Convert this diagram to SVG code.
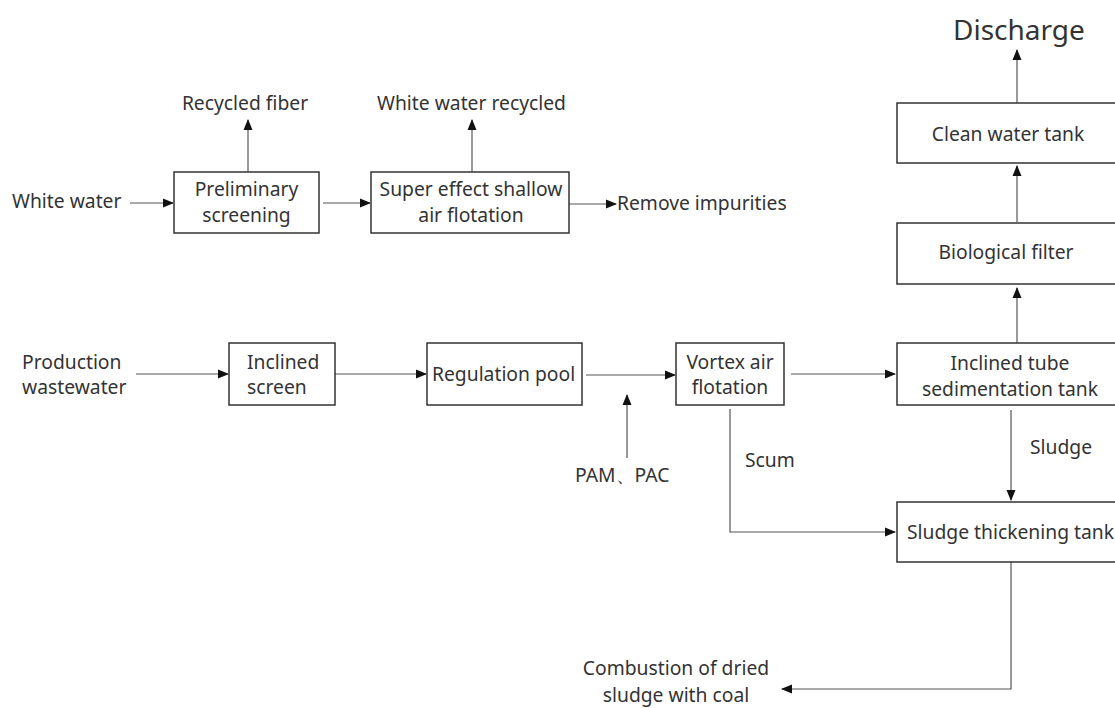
<svg xmlns="http://www.w3.org/2000/svg" width="1115" height="708" viewBox="0 0 1115 708">
<defs>
<marker id="ah" markerWidth="11" markerHeight="10" refX="10" refY="5" orient="auto" markerUnits="userSpaceOnUse">
<path d="M0,0.5 L11,5 L0,9.5 z" fill="#111"/>
</marker>
<style>
text{font-family:"Noto Sans","Liberation Sans",sans-serif;font-size:19.3px;fill:#333;}
.big{font-size:28px;}
.m{text-anchor:middle;}
rect{fill:#fff;stroke:#333;stroke-width:1.5;}
.c{fill:none;stroke:#555;stroke-width:1.2;}
</style>
</defs>
<rect x="0" y="0" width="1115" height="708" style="fill:#fff;stroke:none"/>
<g id="connectors">
<path class="c" d="M130,203 H173" marker-end="url(#ah)"/>
<path class="c" d="M248,172 V120" marker-end="url(#ah)"/>
<path class="c" d="M323,203 H370" marker-end="url(#ah)"/>
<path class="c" d="M472,172 V120" marker-end="url(#ah)"/>
<path class="c" d="M569,204 H616" marker-end="url(#ah)"/>
<path class="c" d="M136,374 H228" marker-end="url(#ah)"/>
<path class="c" d="M335,374 H426" marker-end="url(#ah)"/>
<path class="c" d="M586,375 H675" marker-end="url(#ah)"/>
<path class="c" d="M627,458 V395" marker-end="url(#ah)"/>
<path class="c" d="M791,374 H895" marker-end="url(#ah)"/>
<path class="c" d="M730,409 V532 H895" marker-end="url(#ah)"/>
<path class="c" d="M1011,410 V500" marker-end="url(#ah)"/>
<path class="c" d="M1017,343 V288" marker-end="url(#ah)"/>
<path class="c" d="M1017,222 V166" marker-end="url(#ah)"/>
<path class="c" d="M1017,103 V50" marker-end="url(#ah)"/>
<path class="c" d="M1011,562 V689 H782" marker-end="url(#ah)"/>
</g>
<g id="white-water"><text x="12" y="208">White water</text></g>
<g id="recycled-fiber"><text class="m" x="245" y="110">Recycled fiber</text></g>
<g id="white-water-recycled"><text class="m" x="471.5" y="110">White water recycled</text></g>
<g id="remove-impurities"><text x="617" y="210">Remove impurities</text></g>
<g id="preliminary-screening"><rect x="174" y="172" width="145" height="61"/><text class="m" x="246.5" y="196">Preliminary</text><text class="m" x="246.5" y="222">screening</text></g>
<g id="super-effect"><rect x="371" y="172" width="198" height="61"/><text class="m" x="471" y="196">Super effect shallow</text><text class="m" x="471" y="222">air flotation</text></g>
<g id="production-wastewater"><text x="22" y="369">Production</text><text x="22" y="394">wastewater</text></g>
<g id="inclined-screen"><rect x="229" y="343" width="106" height="62"/><text x="247" y="369">Inclined</text><text x="247" y="394">screen</text></g>
<g id="regulation-pool"><rect x="427" y="343" width="155" height="62"/><text x="432" y="381">Regulation pool</text></g>
<g id="pam-pac"><text x="575" y="482">PAM、PAC</text></g>
<g id="vortex"><rect x="676" y="343" width="108" height="62"/><text class="m" x="730" y="369">Vortex air</text><text class="m" x="730" y="394">flotation</text></g>
<g id="scum"><text x="745" y="467">Scum</text></g>
<g id="inclined-tube"><rect x="897" y="343" width="230" height="62"/><text class="m" x="1010" y="370">Inclined tube</text><text class="m" x="1010" y="396">sedimentation tank</text></g>
<g id="sludge-label"><text x="1030" y="454">Sludge</text></g>
<g id="sludge-thickening"><rect x="897" y="502" width="230" height="60"/><text x="907" y="539">Sludge thickening tank</text></g>
<g id="biological-filter"><rect x="897" y="223" width="230" height="61"/><text class="m" x="1006" y="259">Biological filter</text></g>
<g id="clean-water"><rect x="897" y="103" width="230" height="60"/><text class="m" x="1008" y="141">Clean water tank</text></g>
<g id="discharge"><text class="big" x="953" y="40">Discharge</text></g>
<g id="combustion"><text class="m" x="676" y="675">Combustion of dried</text><text class="m" x="676" y="701.5">sludge with coal</text></g>
</svg>
